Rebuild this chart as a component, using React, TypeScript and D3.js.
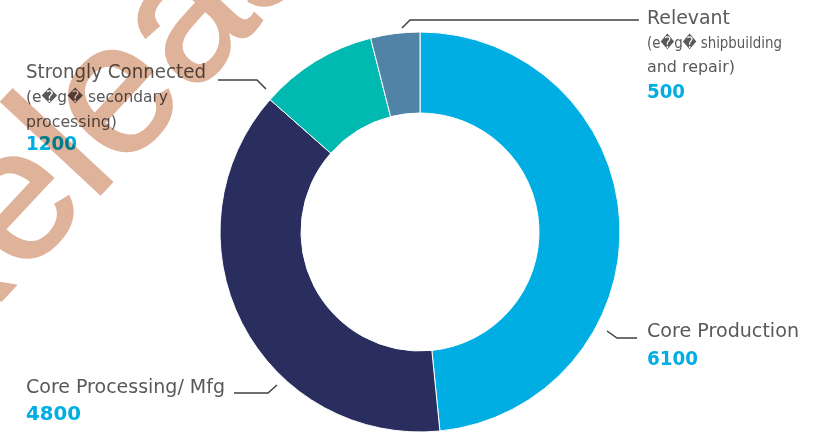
import React from "react";
import * as d3 from "d3";

const categories = ["Core Production", "Core Processing/ Mfg", "Strongly Connected", "Relevant"];
const values = [6100, 4800, 1200, 500];
const valueLabels = ["6100", "4800", "1200", "500"];
const subLabels: string[][] = [
  [],
  [],
  ["(e\uFFFDg\uFFFD secondary", "processing)"],
  ["(e\uFFFDg\uFFFD shipbuilding", "and repair)"],
];
const colors = ["#00AEE3", "#292E5E", "#00B9B0", "#5183A7"];
const watermarkText = "Release";

// layout (per category, same order)
const layout = [
  { x: 647, baselines: [336.7, 365], widths: [152, 51], leader: [[607, 331], [617, 338], [637, 338]] },
  { x: 26, baselines: [392.7, 419.5], widths: [199, 55], leader: [[234, 393], [268, 393], [277, 385]] },
  { x: 26, baselines: [78.3, 102, 126.5, 150], widths: [180, 142, 91, 51], leader: [[218, 80], [257, 80], [266, 89]] },
  { x: 647, baselines: [24, 48, 72, 97.5], widths: [83, 135, 88, 38], leader: [[402, 28], [410, 20], [639, 20]] },
];

const W = 823;
const H = 433;
const cx = 420;
const cy = 232;
const outerR = 200;
const innerR = 119;

const wm = { x: -71, y: 378, size: 187, angle: -47 };

export default function App() {
  const pie = d3.pie<number>().sort(null).value((d) => d).startAngle(0).endAngle(2 * Math.PI);
  const arcs = pie(values);
  const arc = d3.arc<d3.PieArcDatum<number>>().innerRadius(innerR).outerRadius(outerR);
  const line = d3.line();

  return (
    <svg width={W} height={H} style={{ position: "absolute", left: 0, top: 0, background: "#fff" }}>
      <rect width={W} height={H} fill="#fff" />
      <g transform={`translate(${cx},${cy})`}>
        {arcs.map((a, i) => (
          <path key={i} d={arc(a) || ""} fill={colors[i]} stroke="#fff" strokeWidth={1} />
        ))}
      </g>
      {categories.map((c, i) => {
        const L = layout[i];
        const lines = [c, ...subLabels[i]];
        return (
          <g key={c}>
            <path d={line(L.leader as [number, number][]) || ""} fill="none" stroke="#404040" strokeWidth={1.5} />
            {lines.map((t, j) => (
              <text
                key={j}
                x={L.x}
                y={L.baselines[j]}
                fontFamily="'DejaVu Sans', Verdana, sans-serif"
                fontSize={j === 0 ? 19 : 16}
                fill="#595959"
                textLength={L.widths[j]}
                lengthAdjust="spacingAndGlyphs"
              >
                {t}
              </text>
            ))}
            <text
              x={L.x}
              y={L.baselines[lines.length]}
              fontFamily="'DejaVu Sans', Verdana, sans-serif"
              fontWeight="bold"
              fontSize={20}
              fill={colors[0]}
              textLength={L.widths[lines.length]}
              lengthAdjust="spacingAndGlyphs"
            >
              {valueLabels[i]}
            </text>
          </g>
        );
      })}
      <text
        x={wm.x}
        y={wm.y}
        transform={`rotate(${wm.angle},${wm.x},${wm.y})`}
        fontFamily="'Liberation Sans', Arial, sans-serif"
        fontSize={wm.size}
        fill="#DFB29A"
        stroke="#DFB29A"
        strokeWidth={2.5}
        style={{ mixBlendMode: "multiply" }}
      >
        {watermarkText}
      </text>
    </svg>
  );
}
